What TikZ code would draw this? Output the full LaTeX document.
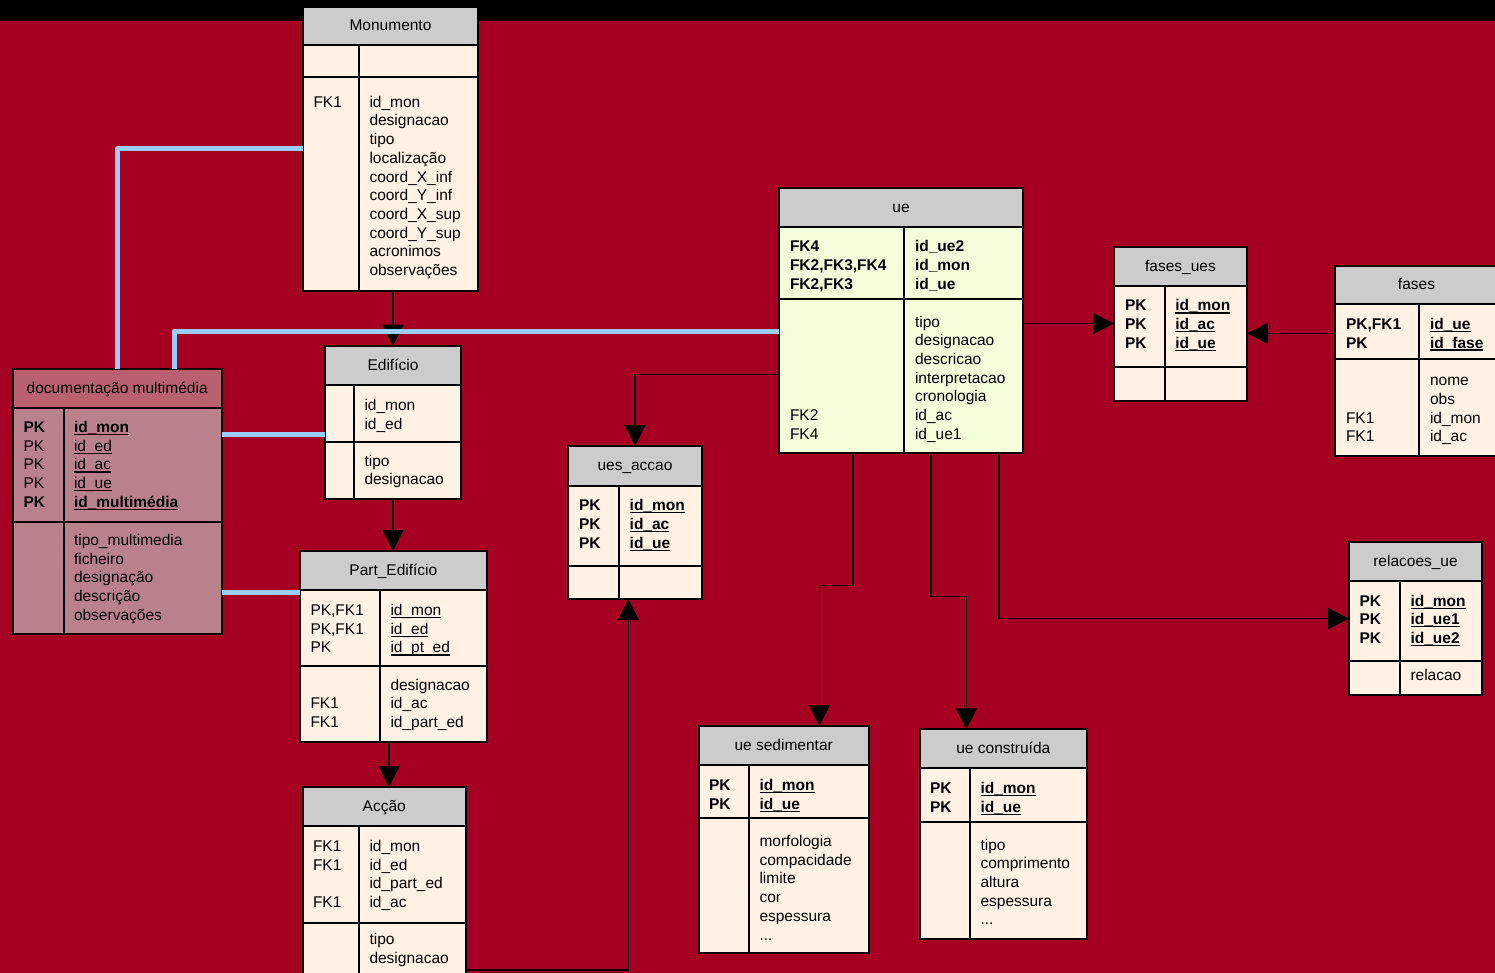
\documentclass[tikz,border=0pt]{standalone}
\usepackage{fontspec}
\setmainfont{Liberation Sans}
\usetikzlibrary{arrows.meta}
\definecolor{bgred}{RGB}{165,0,33}
\definecolor{hdrgray}{RGB}{204,204,204}
\definecolor{peach}{RGB}{255,241,227}
\definecolor{uegreen}{RGB}{243,253,218}
\definecolor{dochdr}{RGB}{185,97,111}
\definecolor{docbody}{RGB}{185,129,139}
\definecolor{linkblue}{RGB}{153,204,255}

\newcommand\ulx[1]{\setbox0=\hbox{#1}\rlap{\rule[-2.6pt]{\wd0}{1.1pt}}\box0}
\newcommand\tdots{.{}.{}.}

\tikzset{
  txt/.style={inner sep=0pt, outer sep=0pt, font=\fontsize{15.5}{18.7}\selectfont, text=black},
  tblline/.style={line width=2pt, draw=black},
  conn/.style={line width=1.3pt, draw=black, -{Triangle[length=21pt,width=21pt]}},
  bluelink/.style={line width=5pt, draw=linkblue, line join=round},
}

% name, left, top, right, header bottom, row1 bottom, bottom, divider, title
\newcommand\tbl[9]{%
  \node[fill=\bodyfill, inner sep=0pt, outer sep=0pt,
        minimum width={(#4-#2)*1pt}, minimum height={(#7-#3)*1pt}]
        (#1) at ({(#2+#4)/2},{(#3+#7)/2}) {};
  \fill[\hdrfill] (#2,#3) rectangle (#4,#5);
  \draw[tblline] (#2,#5) -- (#4,#5) (#2,#6) -- (#4,#6) (#8,#5) -- (#8,#7);
  \draw[tblline] (#2,#3) rectangle (#4,#7);
  \node[txt, anchor=base] (#1-title) at ({(#2+#4)/2},{(#3+#5)/2+5}) {#9};
}
% name, x, first baseline, list of lines
\newcommand\tlines[4]{%
  \foreach \myl [count=\i] in {#4}{%
    \node[txt, anchor=base west] (#1-\i) at (#2,{#3+(\i-1)*18.7}) {\myl};}%
}

\begin{document}
\begin{tikzpicture}[x=1pt,y=-1pt]
\useasboundingbox (0,0) rectangle (1495,973);
\clip (0,0) rectangle (1495,973);
\fill[bgred] (0,0) rectangle (1495,973);
\fill[black] (0,0) rectangle (1495,20.7);

\def\hdrfill{hdrgray}\def\bodyfill{peach}
\tbl{mon}{303}{7}{478}{45}{76.7}{290.7}{359}{Monumento}
\tlines{mon-k2}{313.5}{107.3}{FK1}
\tlines{mon-f2}{369.5}{107.3}{id\_mon,designacao,tipo,localização,coord\_X\_inf,coord\_Y\_inf,coord\_X\_sup,coord\_Y\_sup,acronimos,observações}

\tbl{edif}{325}{345.7}{461}{385}{442}{499}{354}{Edifício}
\tlines{edif-f1}{364.5}{410.5}{id\_mon,id\_ed}
\tlines{edif-f2}{364.5}{466}{tipo,designacao}

\def\hdrfill{dochdr}\def\bodyfill{docbody}
\tbl{doc}{12.7}{369}{221.7}{408}{521.7}{634}{63.7}{documentação multimédia}
\tlines{doc-k1}{23.5}{432.5}{\textbf{PK},PK,PK,PK,\textbf{PK}}
\tlines{doc-f1}{74}{432.5}{\ulx{\textbf{id\_mon}},\ulx{id\_ed},\ulx{id\_ac},\ulx{id\_ue},\ulx{\textbf{id\_multimédia}}}
\tlines{doc-f2}{74}{545.3}{tipo\_multimedia,ficheiro,designação,descrição,observações}

\def\hdrfill{hdrgray}\def\bodyfill{peach}
\tbl{pe}{300}{551}{486.7}{590}{666}{741.7}{379.7}{Part\_Edifício}
\tlines{pe-k1}{310.5}{615.5}{{PK,FK1},{PK,FK1},PK}
\tlines{pe-f1}{390.5}{615.5}{\ulx{id\_mon},\ulx{id\_ed},\ulx{id\_pt\_ed}}
\tlines{pe-k2}{310.5}{708.7}{FK1,FK1}
\tlines{pe-f2}{390.5}{690}{designacao,id\_ac,id\_part\_ed}

\tbl{ac}{302.7}{787}{465.7}{825.7}{923.3}{990}{359}{Acção}
\tlines{ac-k1}{313}{851.3}{FK1,FK1}
\tlines{ac-k2}{313}{907.4}{FK1}
\tlines{ac-f1}{369.5}{851.3}{id\_mon,id\_ed,id\_part\_ed,id\_ac}
\tlines{ac-f2}{369.5}{944.3}{tipo,designacao}

\tbl{ua}{568.3}{446}{701.7}{485.7}{565.7}{599}{619}{ues\_accao}
\tlines{ua-k1}{579}{510.7}{\textbf{PK},\textbf{PK},\textbf{PK}}
\tlines{ua-f1}{629.7}{510.7}{\ulx{\textbf{id\_mon}},\ulx{\textbf{id\_ac}},\ulx{\textbf{id\_ue}}}

\def\bodyfill{uegreen}
\tbl{ue}{779.3}{188.3}{1022.7}{227}{299}{453.3}{904.3}{ue}
\tlines{ue-k1}{790}{252}{\textbf{FK4},\textbf{FK2,FK3,FK4},\textbf{FK2,FK3}}
\tlines{ue-f1}{915}{252}{\textbf{id\_ue2},\textbf{id\_mon},\textbf{id\_ue}}
\tlines{ue-k2}{790}{420.5}{FK2,FK4}
\tlines{ue-f2}{915}{327}{tipo,designacao,descricao,interpretacao,cronologia,id\_ac,id\_ue1}

\def\bodyfill{peach}
\tbl{fu}{1114}{247.3}{1247}{286}{366.7}{400.7}{1164.7}{fases\_ues}
\tlines{fu-k1}{1125}{311}{\textbf{PK},\textbf{PK},\textbf{PK}}
\tlines{fu-f1}{1175.3}{311}{\ulx{\textbf{id\_mon}},\ulx{\textbf{id\_ac}},\ulx{\textbf{id\_ue}}}

\tbl{fa}{1335}{265.7}{1498}{304.3}{358.7}{456}{1419.3}{fases}
\tlines{fa-k1}{1346}{329.3}{\textbf{PK,FK1},\textbf{PK}}
\tlines{fa-f1}{1430}{329.3}{\ulx{\textbf{id\_ue}},\ulx{\textbf{id\_fase}}}
\tlines{fa-k2}{1346}{423.1}{FK1,FK1}
\tlines{fa-f2}{1430}{385.7}{nome,obs,id\_mon,id\_ac}

\tbl{ru}{1349}{542.3}{1482}{580.7}{661}{695}{1400}{relacoes\_ue}
\tlines{ru-k1}{1359.5}{606}{\textbf{PK},\textbf{PK},\textbf{PK}}
\tlines{ru-f1}{1410.5}{606}{\ulx{\textbf{id\_mon}},\ulx{\textbf{id\_ue1}},\ulx{\textbf{id\_ue2}}}
\tlines{ru-f2}{1410.5}{680.5}{relacao}

\tbl{us}{698.7}{726}{868.7}{765}{817.7}{953.3}{749}{ue sedimentar}
\tlines{us-k1}{709}{790.5}{\textbf{PK},\textbf{PK}}
\tlines{us-f1}{759.5}{790.5}{\ulx{\textbf{id\_mon}},\ulx{\textbf{id\_ue}}}
\tlines{us-f2}{759.5}{846.5}{morfologia,compacidade,limite,cor,espessura,\tdots}

\tbl{uc}{919.6}{729.3}{1087}{768.3}{822.3}{939}{970}{ue construída}
\tlines{uc-k1}{930}{793.5}{\textbf{PK},\textbf{PK}}
\tlines{uc-f1}{980.5}{793.5}{\ulx{\textbf{id\_mon}},\ulx{\textbf{id\_ue}}}
\tlines{uc-f2}{980.5}{850}{tipo,comprimento,altura,espessura,\tdots}

% relationship connectors
\draw[conn] (mon.south -| edif.north) -- (edif.north);
\draw[conn] (edif.south) -- (edif.south |- pe.north);
\draw[conn] ([xshift=-4.35pt]pe.south) -- ([xshift=-4.35pt]pe.south |- ac.north);
\draw[conn] ([yshift=-81.5pt]ac.east) -| ([xshift=-6.7pt]ua.south);
\draw[conn] ([yshift=-53.5pt]ue.west) -| (ua.north);
\draw[conn] ([yshift=-2.7pt]ue.east) -- ([yshift=-2.7pt]ue.east -| fu.west);
\draw[conn] ([yshift=27.5pt]fa.west) -- ([yshift=27.5pt]fa.west -| fu.east);
\draw[conn] ([xshift=-48pt]ue.south) -- ++(0,132.4) -| ([xshift=35.6pt]us.north);
\draw[conn] ([xshift=30pt]ue.south) -- ++(0,143.4) -| ([xshift=-36.9pt]uc.north);
\draw[conn] ([xshift=98pt]ue.south) |- (ru.west);

% multimedia links
\draw[bluelink] (mon.west) -| (doc.north);
\draw[bluelink] ([yshift=-10.2pt]ue.west) -| ([xshift=56.8pt]doc.north);
\draw[bluelink] ([yshift=67.5pt]doc.east) -- ([yshift=67.5pt]doc.east -| edif.west);
\draw[bluelink] ([yshift=-91.2pt]doc.east) -- ([yshift=-91.2pt]doc.east -| pe.west);
\end{tikzpicture}
\end{document}
